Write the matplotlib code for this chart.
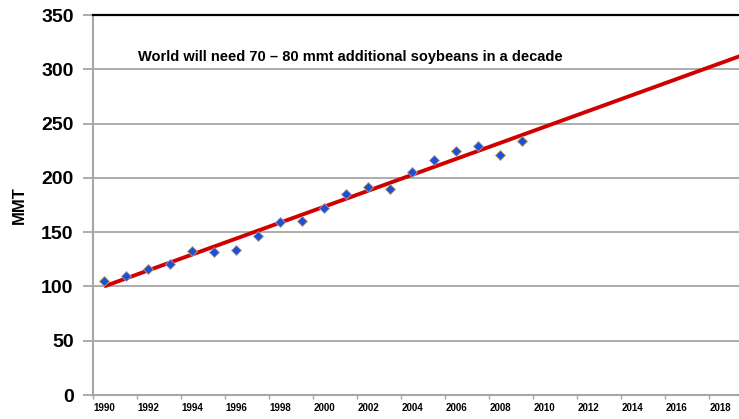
import matplotlib.pyplot as plt

plt.rcParams['font.family'] = ['Liberation Sans', 'DejaVu Sans']

# soybean production, MMT
years = [1990, 1991, 1992, 1993, 1994, 1995, 1996, 1997, 1998, 1999,
         2000, 2001, 2002, 2003, 2004, 2005, 2006, 2007, 2008, 2009]
mmt = [105, 110, 116, 121, 133, 132, 134, 146, 159, 160,
       172, 185, 192, 190, 205, 216, 225, 229, 221, 234]

# linear trend
trend_years = [1990, 2019.5]
trend_vals = [100, 316.5]

tick_years = list(range(1990, 2019, 2))
y_ticks = [0, 50, 100, 150, 200, 250, 300, 350]
note = "World will need 70 \u2013 80 mmt additional soybeans in a decade"

fig = plt.figure(figsize=(7.39, 4.19), dpi=100)
ax = fig.add_axes([93 / 739, 24 / 419, 646 / 739, 380 / 419])

grid_c = '#a6a6a6'
for v in y_ticks[1:-1]:
    ax.axhline(v, color=grid_c, lw=1.3, zorder=1)

ax.plot(trend_years, trend_vals, color='#d00000', lw=2.8, zorder=2,
        solid_capstyle='butt')
ax.plot(years, mmt, 'D', color='#1f4fd8', ms=5, mec='#b8a070', mew=0.6,
        zorder=3)

ax.set_xlim(1989.5, 1989.5 + 646 / 22)
ax.set_ylim(0, 350)

ax.set_yticks(y_ticks)
ax.set_yticklabels([str(v) for v in y_ticks], fontsize=14, fontweight='bold')
ax.tick_params(axis='y', length=7, width=1.3, color=grid_c, pad=7)

# category-style x axis: ticks between categories, labels on them
ax.set_xticks([t - 0.5 for t in tick_years])
ax.set_xticklabels([])
ax.set_xticks(tick_years, minor=True)
ax.set_xticklabels([str(t) for t in tick_years], minor=True,
                   fontsize=7, fontweight='bold')
ax.tick_params(axis='x', which='major', length=3, width=1, color=grid_c)
ax.tick_params(axis='x', which='minor', length=0, pad=6)

for s in ['left', 'bottom']:
    ax.spines[s].set_color(grid_c)
    ax.spines[s].set_linewidth(1.5)
ax.spines['top'].set_color('black')
ax.spines['top'].set_linewidth(1.6)
ax.spines['right'].set_visible(False)

ax.set_ylabel('MMT', fontsize=12, fontweight='bold', labelpad=10)

ax.text(1991.55, 311, note, fontsize=10.5, fontweight='bold', va='center')

fig.savefig('out.png', dpi=100)
